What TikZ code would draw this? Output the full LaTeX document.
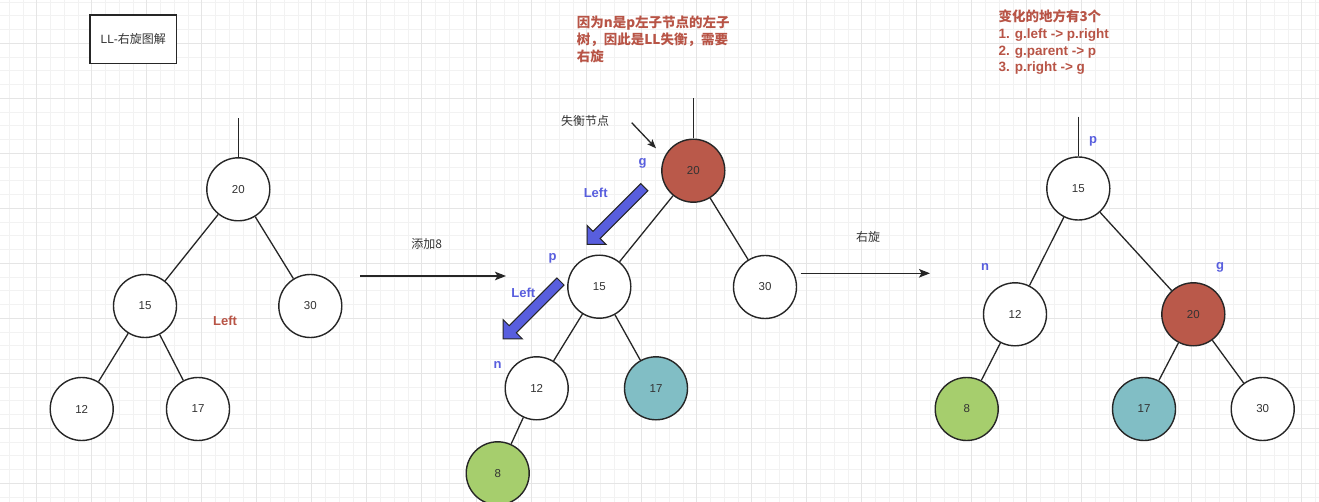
\documentclass[tikz,border=0pt]{standalone}
\usepackage{fontspec}
\setmainfont{Liberation Sans}
\newfontfamily\cjk{Noto Sans CJK SC}
\usetikzlibrary{arrows.meta,shapes.arrows}
\definecolor{redfill}{RGB}{186,89,74}
\definecolor{tealfill}{RGB}{129,190,197}
\definecolor{greenfill}{RGB}{166,206,109}
\definecolor{bluelabel}{RGB}{88,94,222}
\definecolor{redtext}{RGB}{184,84,70}
\definecolor{ink}{RGB}{51,51,51}
\definecolor{gridminor}{RGB}{242,242,242}
\definecolor{gridmajor}{RGB}{229,229,229}

\begin{document}
\begin{tikzpicture}
    [x=1pt,y=-1pt,>={Stealth[length=11pt,width=8.5pt,inset=2.5pt]},
     treenode/.style={circle,draw=black!85,line width=1.4pt,minimum size=63pt,inner sep=0pt,fill=white,text=ink,font=\fontsize{11.5}{13}\selectfont},
     link/.style={draw=black!85,line width=1.3pt},
     side/.style={text=bluelabel,font=\bfseries\fontsize{13}{15}\selectfont},
     memo/.style={text=ink,font=\cjk\fontsize{12}{14}\selectfont},
     rednote/.style={text=redtext,align=left,inner sep=0pt,anchor=north west,font=\bfseries\fontsize{13.5}{16.8}\selectfont},
     fatarrow/.style={single arrow,draw=black!85,fill=bluelabel,line width=1pt,inner sep=4.5pt,single arrow head extend=8.5pt,minimum height=81pt,anchor=tip,rotate=-135}]
    \useasboundingbox (0,0) rectangle (1319,502);
    %Grid
    \fill[white] (0,0) rectangle (1319,502);
    \foreach \i in {0,...,95} \draw[gridminor,line width=0.8pt] ({9.2+13.75*\i},0) -- ({9.2+13.75*\i},502);
    \foreach \j in {0,...,36} \draw[gridminor,line width=0.8pt] (0,{2.05+13.75*\j}) -- (1319,{2.05+13.75*\j});
    \foreach \i in {0,...,23} \draw[gridmajor,line width=1pt] ({36.7+55*\i},0) -- ({36.7+55*\i},502);
    \foreach \j in {0,...,8} \draw[gridmajor,line width=1pt] (0,{43.3+55*\j}) -- (1319,{43.3+55*\j});

    %Title
    \node[draw=black!85,fill=white,line width=1.3pt,minimum width=86.7pt,minimum height=48.3pt,text=ink,font=\fontsize{12}{14}\selectfont] (title) at (133.3,39.2){LL-{\cjk 右旋图解}};

    %Nodes (before)
    \coordinate (Ltop) at (238.3,118.3);
    \node[treenode] (L20) at (238.3,189.3){20};
    \node[treenode] (L15) at (145,306){15};
    \node[treenode] (L30) at (310.3,306){30};
    \node[treenode] (L12) at (81.7,409){12};
    \node[treenode] (L17) at (198,409){17};
    \node[text=redtext,font=\bfseries\fontsize{13}{15}\selectfont] (Lleft) at (225,320.7){Left};

    %Edges (before)
    \draw[link] (Ltop) -- (L20);
    \draw[link] (L20) -- (L15);
    \draw[link] (L20) -- (L30);
    \draw[link] (L15) -- (L12);
    \draw[link] (L15) -- (L17);

    %Step 1
    \coordinate (S1a) at (360,276);
    \coordinate (S1b) at (506,276);
    \draw[link,->] (S1a) -- (S1b);
    \node[memo] (add) at (426.7,244){添加8};

    %Nodes (after adding 8)
    \coordinate (Mtop) at (693.3,98.3);
    \node[treenode,fill=redfill] (M20) at (693.3,170.7){20};
    \node[treenode] (M15) at (599.3,286.7){15};
    \node[treenode] (M30) at (765,287){30};
    \node[treenode] (M12) at (536.7,388.3){12};
    \node[treenode,fill=tealfill] (M17) at (656,388.3){17};
    \node[treenode,fill=greenfill] (M8) at (497.7,473.3){8};
    \node[side] (Mg) at (642.7,163.3){g};
    \node[side] (Mleft1) at (595.7,192.7){Left};
    \node[side] (Mp) at (552.7,258.3){p};
    \node[side] (Mleft2) at (523.3,293.3){Left};
    \node[side] (Mn) at (497.7,365){n};
    \node[fatarrow] (Marrow1) at (586.5,245){};
    \node[fatarrow] (Marrow2) at (502.7,339.3){};
    \node[memo] (lost) at (585,120.7){失衡节点};
    \coordinate (lostA) at (631.7,122.7);
    \coordinate (lostB) at (656,148.3);
    \node[rednote] (why) at (576.7,16){{\cjk 因为n是p左子节点的左子}\\{\cjk 树，因此是LL失衡，需要}\\{\cjk 右旋}};

    %Edges (after adding 8)
    \draw[link] (Mtop) -- (M20);
    \draw[link] (M20) -- (M15);
    \draw[link] (M20) -- (M30);
    \draw[link] (M15) -- (M12);
    \draw[link] (M15) -- (M17);
    \draw[link] (M12) -- (M8);
    \draw[link,-{Stealth[length=9pt,width=7pt,inset=2pt]}] (lostA) -- (lostB);

    %Step 2
    \coordinate (S2a) at (800.7,273.3);
    \coordinate (S2b) at (930,273.3);
    \draw[link,->] (S2a) -- (S2b);
    \node[memo] (rot) at (868,236.7){右旋};

    %Nodes (after rotation)
    \coordinate (Rtop) at (1078.3,116.7);
    \node[treenode] (R15) at (1078.3,188.5){15};
    \node[treenode] (R12) at (1015,314.3){12};
    \node[treenode,fill=redfill] (R20) at (1193.3,314.3){20};
    \node[treenode,fill=greenfill] (R8) at (966.7,409){8};
    \node[treenode,fill=tealfill] (R17) at (1144,409){17};
    \node[treenode] (R30) at (1262.7,409){30};
    \node[side] (Rp) at (1093,141.7){p};
    \node[side] (Rn) at (985,267){n};
    \node[side] (Rg) at (1220,267){g};
    \node[rednote] (changes) at (998.3,9.5){{\cjk 变化的地方有3个}\\1. g.left -> p.right\\2. g.parent -> p\\3. p.right -> g};

    %Edges (after rotation)
    \draw[link] (Rtop) -- (R15);
    \draw[link] (R15) -- (R12);
    \draw[link] (R15) -- (R20);
    \draw[link] (R12) -- (R8);
    \draw[link] (R20) -- (R17);
    \draw[link] (R20) -- (R30);

\end{tikzpicture}
\end{document}
